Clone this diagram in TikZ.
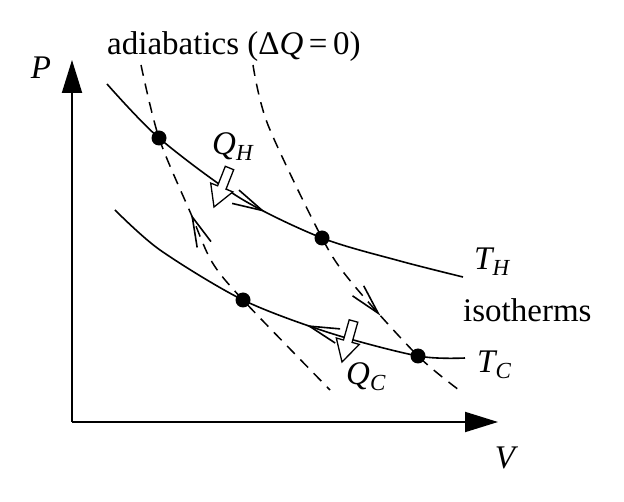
\documentclass[tikz,border=0pt]{standalone}
\usepackage{fontspec}
\setmainfont{Liberation Serif}
\usetikzlibrary{arrows.meta,decorations.markings}
\newcommand{\symsub}[2]{{\itshape #1}\raisebox{-6pt}{\fontsize{23}{23}\selectfont\itshape #2}}
\tikzset{
  curve/.style={line width=1.6pt},
  adiab/.style={line width=1.5pt, dash pattern=on 11pt off 8pt},
  axis/.style={line width=2pt, -{Triangle[length=33pt,width=20pt]}},
  dot/.style={circle, fill=black, inner sep=0pt, minimum size=15pt},
  lbl/.style={font=\fontsize{33}{39}\selectfont, inner sep=0pt},
  hollow/.style={draw, fill=white, line width=1.3pt, line join=miter},
  markfwd/.style={postaction=decorate, decoration={markings,
      mark=at position #1 with {\arrow[solid, line width=1.6pt]{Straight Barb[length=30pt,width=15pt]}}}},
  markrev/.style={postaction=decorate, decoration={markings,
      mark=at position #1 with {\arrowreversed[solid, line width=1.6pt]{Straight Barb[length=30pt,width=15pt]}}}}
}
\begin{document}
\begin{tikzpicture}[x=1pt,y=-1pt]
\useasboundingbox (0,0) rectangle (624,502);
% corner points of the cycle
\coordinate (A) at (159,138);
\coordinate (B) at (322,238);
\coordinate (C) at (243,300);
\coordinate (D) at (418,356);
% axes
\coordinate (O) at (72,422);
\coordinate (Ptip) at (72,60);
\coordinate (Vtip) at (498,422);
\draw[axis] (O) -- (Ptip);
\draw[axis] (O) -- (Vtip);
% isotherms
\draw[curve, markfwd=0.495] plot[smooth] coordinates {(107,84) (A) (240,198) (B) (400,261) (463,277)};
\draw[curve, markrev=0.58] plot[smooth] coordinates {(115,210) (160,250) (C) (330,333) (D) (465,358)};
% adiabats
\draw[adiab, markrev=0.41] plot[smooth] coordinates {(141,65) (A) (191,214) (212,262) (C) (330,390)};
\draw[adiab, markfwd=0.715] plot[smooth] coordinates {(253,65) (268,125) (B) (352,283) (D) (463,393)};
% dots
\node[dot] (dA) at (A) {};
\node[dot] (dB) at (B) {};
\node[dot] (dC) at (C) {};
\node[dot] (dD) at (D) {};
% heat arrows
\draw[hollow] (225.3,166.3) -- (233.7,169.7) -- (226.0,189.2) -- (232.9,191.9) -- (214.0,207.0) -- (210.7,183.1) -- (217.6,185.8) -- cycle;
\draw[hollow] (349.2,319.8) -- (357.8,322.2) -- (352.1,342.4) -- (359.3,344.4) -- (342.0,362.0) -- (336.3,338.0) -- (343.5,340.0) -- cycle;
% labels
\node[lbl, anchor=base west] (adia) at (107,55) {adiabatics (Δ{\itshape Q\,}=\,0)};
\node[lbl, anchor=base west] (qh) at (212,155) {\symsub{Q}{H}};
\node[lbl, anchor=base west] (qc) at (346,385) {\symsub{Q}{C}};
\node[lbl, anchor=base west] (th) at (474,270) {\symsub{T}{H}};
\node[lbl, anchor=base west] (tc) at (477,373) {\symsub{T}{C}};
\node[lbl, anchor=base west] (iso) at (463,322) {isotherms};
\node[lbl] (plab) at (41,68) {\itshape P};
\node[lbl] (vlab) at (505,458) {\itshape V};
\end{tikzpicture}
\end{document}
